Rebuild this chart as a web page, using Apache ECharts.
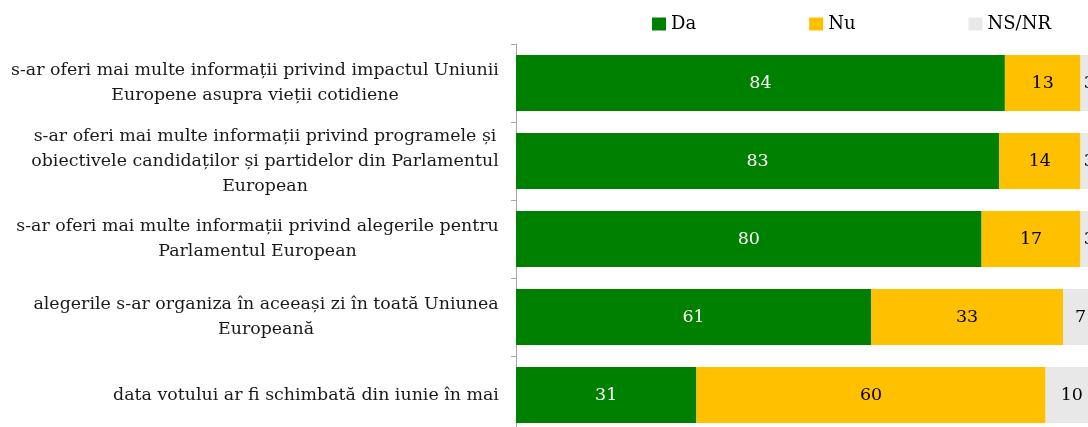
<!DOCTYPE html>
<html>
<head>
<meta charset="utf-8">
<script src="https://cdn.jsdelivr.net/npm/echarts@6/dist/echarts.min.js"></script>
<style>
html, body { margin: 0; padding: 0; background: #fff; }
#chart { width: 1088px; height: 427px; }
</style>
</head>
<body>
<div id="chart"></div>
<script>
// categorii (de sus in jos)
var categories = [
	's-ar oferi mai multe informații privind impactul Uniunii\nEuropene asupra vieții cotidiene',
	's-ar oferi mai multe informații privind programele și\nobiectivele candidaților și partidelor din Parlamentul\nEuropean',
	's-ar oferi mai multe informații privind alegerile pentru\nParlamentul European',
	'alegerile s-ar organiza în aceeași zi în toată Uniunea\nEuropeană',
	'data votului ar fi schimbată din iunie în mai'
];
var daValues = [84, 83, 80, 61, 31];
var nuValues = [13, 14, 17, 33, 60];
var nsValues = [3, 3, 3, 7, 10];

var fontName = 'DejaVu Serif';
var labelSize = 17.4;

// fiecare eticheta centrata pe linii, blocul aliniat la dreapta
var ctx = document.createElement('canvas').getContext('2d');
ctx.font = labelSize + 'px "' + fontName + '"';
var richStyles = {};
categories.forEach(function(cat, i) {
	var w = 0;
	cat.split('\n').forEach(function(line) {
		w = Math.max(w, ctx.measureText(line).width);
	});
	richStyles['c' + i] = { width: Math.ceil(w), align: 'center', fontFamily: fontName, fontSize: labelSize, lineHeight: 25, color: '#1a1a1a' };
});

function makeSeries(name, values, color, labelColor) {
	return {
		name: name,
		type: 'bar',
		stack: 'total',
		barWidth: 56,
		itemStyle: { color: color },
		label: {
			show: true,
			position: 'inside',
			color: labelColor,
			fontFamily: fontName,
			fontSize: 17.5
		},
		emphasis: { disabled: true },
		data: values
	};
}

var myChart = echarts.init(document.getElementById('chart'));
var option = {
	animation: false,
	textStyle: { fontFamily: fontName },
	legend: {
		top: 10,
		left: 647,
		itemWidth: 14,
		itemHeight: 13,
		itemGap: 113,
		icon: 'rect',
		textStyle: { fontFamily: fontName, fontSize: 18, color: '#000' },
		data: ['Da', 'Nu', 'NS/NR']
	},
	grid: {
		left: 516,
		right: -10,
		top: 44,
		bottom: -7,
		containLabel: false,
		outerBoundsMode: 'none'
	},
	xAxis: {
		type: 'value',
		min: 0,
		max: 100,
		show: false
	},
	yAxis: {
		type: 'category',
		inverse: true,
		data: categories,
		axisLine: { show: true, lineStyle: { color: '#a6a6a6' } },
		axisTick: { show: true, length: 5, lineStyle: { color: '#a6a6a6' } },
		axisLabel: {
			margin: 17,
			align: 'right',
			color: '#1a1a1a',
			fontFamily: fontName,
			fontSize: labelSize,
			lineHeight: 25,
			formatter: function(value, index) {
				return value.split('\n').map(function(line) {
					return '{c' + index + '|' + line + '}';
				}).join('\n');
			},
			rich: richStyles
		}
	},
	series: [
		makeSeries('Da', daValues, '#008000', '#fff'),
		makeSeries('Nu', nuValues, '#ffc000', '#000'),
		makeSeries('NS/NR', nsValues, '#e8e8e8', '#000')
	]
};
myChart.setOption(option);
</script>
</body>
</html>
